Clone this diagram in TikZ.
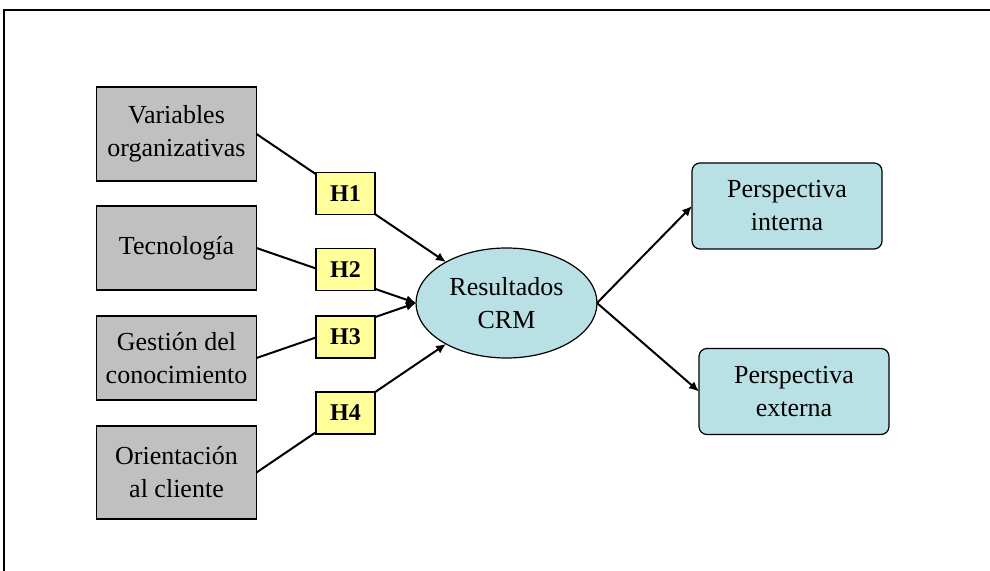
\documentclass[tikz,border=0pt]{standalone}
\usepackage{fontspec}
\setmainfont{Liberation Serif}
\usepackage{tikz}
\usetikzlibrary{positioning,arrows.meta,shapes.geometric}
\definecolor{boxgray}{RGB}{192,192,192}
\definecolor{hypyellow}{RGB}{255,255,153}
\definecolor{crmblue}{RGB}{185,224,228}
\tikzstyle{signal}=[arrows={-Latex[length=5pt,width=4.5pt]},draw=black,line width=1pt]
\tikzstyle{block}=[draw=black,line width=0.6pt]
\def\varwidth{80pt}
\def\varheight{42pt}
\tikzstyle{varbox}=[style=block, fill=boxgray,
    inner sep=2pt,outer sep=0pt, font=\fontsize{13}{16.5}\selectfont,
    text centered, align=center,
    minimum width=\varwidth, minimum height=\varheight]
\tikzstyle{hypbox}=[style=block, fill=hypyellow, inner sep=0pt, outer sep=0pt,
    font=\fontsize{12}{14}\selectfont\bfseries,
    minimum width=29.5pt, minimum height=21pt]
\tikzstyle{crmnode}=[style=block, ellipse, fill=crmblue, inner sep=0pt, outer sep=0pt,
    font=\fontsize{13}{16.5}\selectfont, align=center,
    minimum width=90.5pt, minimum height=55pt]
\tikzstyle{perspbox}=[style=block, fill=crmblue, rounded corners=4pt,
    inner sep=2pt, outer sep=0pt, font=\fontsize{13}{16.5}\selectfont,
    align=center, minimum width=95pt, minimum height=43pt]

\begin{document}
\begin{tikzpicture}[x=0.5pt,y=-0.5pt]
    \useasboundingbox (0,0) rectangle (990,571);
    \draw[line width=0.8pt] (4,571) -- (4,10) -- (990,10);
    % antecedentes
    \node[varbox, minimum height=47pt] (var) at (176.5,134) {Variables\\organizativas};
    \node[varbox] (tec) at (176.5,248) {Tecnología};
    \node[varbox] (ges) at (176.5,358) {Gestión del\\conocimiento};
    \node[varbox, minimum height=46.5pt] (ori) at (176.5,472.5) {Orientación\\al cliente};
    \node[crmnode] (crm) at (506.5,303) {Resultados\\CRM};
    % consecuencias
    \node[perspbox] (int) at (787,206) {Perspectiva\\interna};
    \node[perspbox] (ext) at (794,391.5) {Perspectiva\\externa};
    \draw[signal] (var.east) -- (crm);
    \draw[signal] (tec.east) -- (crm.west);
    \draw[signal] (ges.east) -- (crm.west);
    \draw[signal] (ori.east) -- (crm);
    \draw[signal] (crm.east) -- (int.west);
    \draw[signal] (crm.east) -- (ext.west);
    % hipotesis
    \node[hypbox] (h1) at (345.5,193.5) {H1};
    \node[hypbox] (h2) at (345.5,269.5) {H2};
    \node[hypbox] (h3) at (345.5,337) {H3};
    \node[hypbox] (h4) at (345.5,413) {H4};
\end{tikzpicture}
\end{document}
